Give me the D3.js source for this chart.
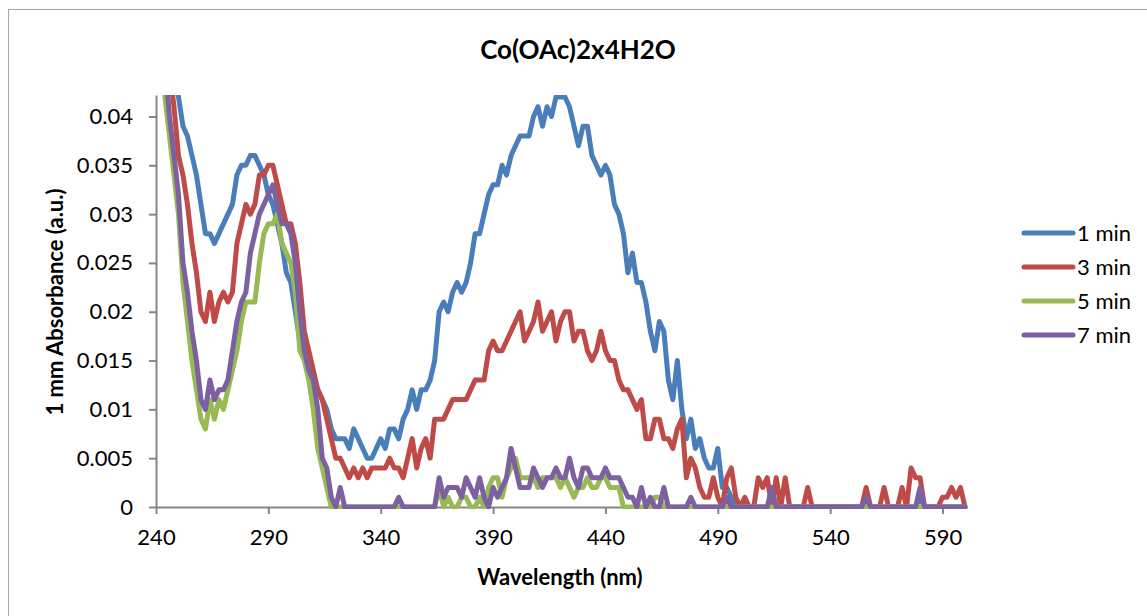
<!DOCTYPE html>
<html>
<head>
<meta charset="utf-8">
<script src="https://cdn.jsdelivr.net/npm/d3@7"></script>
<style>
  body { margin: 0; background: #fff; }
  svg { display: block; }
  text { font-family: Lato, "Open Sans", sans-serif; fill: #000; }
</style>
</head>
<body>
<svg id="chart" width="1147" height="616"></svg>
<script>
// Wavelength grid of the spectra (nm), sampled every 2 nm.
const wavelengths = d3.range(240, 601, 2);

// Absorbance of each spectrum in milli-absorbance units, one row per 20 nm.
const min1 = [
  60, 56, 52, 48, 45, 42, 39, 38, 36, 34,   // 240
  31, 28, 28, 27, 28, 29, 30, 31, 34, 35,   // 260
  35, 36, 36, 35, 34, 32, 31, 29, 27, 24,   // 280
  23, 20, 17, 15.5, 14, 13, 12, 11, 10, 8,  // 300
  7, 7, 7, 6, 8, 7, 6, 5, 5, 6,             // 320
  7, 6, 8, 8, 7, 9, 10, 12, 10, 12,         // 340
  12, 13, 15, 20, 21, 20, 22, 23, 22, 23,   // 360
  25, 28, 28, 30, 32, 33, 33, 35, 34, 36,   // 380
  37, 38, 38, 38, 40, 41, 39, 41, 40, 42,   // 400
  42, 42, 41, 39, 37, 39, 39, 36, 35, 34,   // 420
  35, 34, 31, 30, 28, 24, 26, 23, 23, 21,   // 440
  18, 16, 19, 18, 13, 11, 15, 10, 7, 9,     // 460
  6, 7, 5, 4, 4, 6, 2, 2, 1, 0,             // 480
  0, 0, 0, 0, 0, 0, 0, 0, 0, 0,             // 500
  0, 0, 0, 0, 0, 0, 0, 0, 0, 0,             // 520
  0, 0, 0, 0, 0, 0, 0, 0, 0, 0,             // 540
  0, 0, 0, 0, 0, 0, 0, 0, 0, 0,             // 560
  1, 0, 0, 0, 0, 0, 0, 0, 0, 0,             // 580
  0                                          // 600
];
const min3 = [
  60, 55, 50, 45, 41, 36, 34, 31, 27, 24,   // 240
  20, 19, 22, 19, 21, 22, 21, 22, 27, 29,   // 260
  31, 30, 31, 34, 34, 35, 35, 33, 31, 29,   // 280
  29, 27, 23, 18, 16, 14, 12, 11, 9, 7,     // 300
  5, 5, 4, 3, 4, 3, 4, 3, 4, 4,             // 320
  4, 4, 5, 4, 4, 3, 5, 7, 4, 6,             // 340
  7, 5, 9, 9, 9, 10, 11, 11, 11, 11,        // 360
  12, 13, 13, 13, 16, 17, 16, 16, 17, 18,   // 380
  19, 20, 17, 18, 19, 21, 18, 19, 20, 17,   // 400
  19, 20, 20, 17, 18, 18, 16, 15, 16, 18,   // 420
  16, 15, 15, 13, 12, 12, 11, 10, 11, 7,    // 440
  7, 9, 9, 7, 7, 6, 8, 9, 3, 5,             // 460
  4, 2, 1, 1, 3, 1, 0, 3, 4, 1,             // 480
  0, 1, 0, 0, 3, 2, 3, 0, 3, 0,             // 500
  3, 0, 0, 0, 0, 2, 0, 0, 0, 0,             // 520
  0, 0, 0, 0, 0, 0, 0, 0, 2, 0,             // 540
  0, 0, 2, 0, 0, 0, 2, 0, 4, 3,             // 560
  3, 0, 0, 0, 0, 1, 1, 2, 1, 2,             // 580
  0                                          // 600
];
const min5 = [
  55, 48, 42, 38, 34, 30, 23, 19, 15, 12,   // 240
  9, 8, 11, 9, 11, 10, 12, 14, 16, 19,      // 260
  21, 21, 21, 25, 28, 29, 29, 30, 27, 26,   // 280
  25, 22, 16, 15, 13, 10, 6, 4, 2, 0,       // 300
  0, 0, 0, 0, 0, 0, 0, 0, 0, 0,             // 320
  0, 0, 0, 0, 0, 0, 0, 0, 0, 0,             // 340
  0, 0, 0, 2, 0, 1, 0, 0, 1, 1,             // 360
  0, 0, 1, 0, 2, 3, 3, 1, 3, 4,             // 380
  5, 3, 3, 3, 3, 2, 3, 3, 3, 3,             // 400
  2, 3, 2, 1, 2, 2, 3, 2, 2, 3,             // 420
  3, 2, 2, 2, 0, 0, 0, 0, 0, 0,             // 440
  0, 1, 1, 0, 0, 0, 0, 0, 0, 0,             // 460
  0, 0, 0, 0, 0, 0, 0, 0, 0, 0,             // 480
  0, 0, 0, 0, 0, 0, 0, 0, 0, 0,             // 500
  0, 0, 0, 0, 0, 0, 0, 0, 0, 0,             // 520
  0, 0, 0, 0, 0, 0, 0, 0, 0, 0,             // 540
  0, 0, 0, 0, 0, 0, 0, 0, 0, 0,             // 560
  0, 0, 0, 0, 0, 0, 0, 0, 0, 0,             // 580
  0                                          // 600
];
const min7 = [
  58, 52, 46, 40, 36, 32, 25, 22, 18, 15,   // 240
  11, 10, 13, 11, 12, 12, 13, 16, 19, 21,   // 260
  22, 26, 28, 30, 31, 32, 33, 31, 29, 29,   // 280
  28, 25, 20, 16, 14, 13, 10, 5, 4, 1,      // 300
  0, 2, 0, 0, 0, 0, 0, 0, 0, 0,             // 320
  0, 0, 0, 0, 1, 0, 0, 0, 0, 0,             // 340
  0, 0, 0, 3, 1, 2, 2, 2, 1, 3,             // 360
  2, 1, 3, 1, 0, 2, 1, 2, 3, 6,             // 380
  4, 2, 2, 2, 4, 3, 2, 3, 3, 4,             // 400
  3, 3, 5, 3, 2, 4, 4, 3, 3, 3,             // 420
  4, 3, 3, 3, 2, 1, 1, 0, 2, 0,             // 440
  1, 0, 0, 2, 0, 0, 0, 0, 0, 1,             // 460
  0, 0, 0, 0, 0, 0, 0, 1, 0, 0,             // 480
  0, 0, 0, 0, 0, 0, 0, 2, 0, 0,             // 500
  0, 0, 0, 0, 0, 0, 0, 0, 0, 0,             // 520
  0, 0, 0, 0, 0, 0, 0, 0, 1, 0,             // 540
  0, 0, 0, 0, 0, 0, 0, 0, 0, 0,             // 560
  2, 0, 0, 0, 0, 0, 0, 0, 0, 0,             // 580
  0                                          // 600
];

const seriesNames = ["1 min", "3 min", "5 min", "7 min"];
const seriesColors = ["#4a7ebb", "#be4b48", "#98b954", "#7d60a0"];
const seriesValues = [min1, min3, min5, min7].map(a => a.map(v => v / 1000));

const xTickValues = [240, 290, 340, 390, 440, 490, 540, 590];
const yTickValues = [0, 0.005, 0.01, 0.015, 0.02, 0.025, 0.03, 0.035, 0.04];
const yTickLabels = ["0", "0.005", "0.01", "0.015", "0.02", "0.025", "0.03", "0.035", "0.04"];

const svg = d3.select("#chart");

// Outer chart frame
svg.append("rect")
  .attr("x", 8.5).attr("y", 9.5)
  .attr("width", 1300).attr("height", 800)
  .attr("fill", "#fff").attr("stroke", "#a6a6a6").attr("stroke-width", 1);

const plot = { left: 156, right: 965, top: 95, bottom: 507 };

const x = d3.scaleLinear().domain([240, 600]).range([plot.left, plot.right]);
const y = d3.scaleLinear().domain([0, 0.0422]).range([plot.bottom, plot.top]);

const axisColor = "#868686";

// Y axis
const yAxis = svg.append("g")
  .attr("transform", `translate(${plot.left},0)`)
  .call(d3.axisLeft(y)
    .tickValues(yTickValues)
    .tickFormat((d, i) => yTickLabels[i])
    .tickSize(7).tickSizeOuter(0).tickPadding(16));

// X axis
const xAxis = svg.append("g")
  .attr("transform", `translate(0,${plot.bottom})`)
  .call(d3.axisBottom(x)
    .tickValues(xTickValues)
    .tickFormat(d3.format("d"))
    .tickSize(7).tickSizeOuter(0).tickPadding(15));

[yAxis, xAxis].forEach(g => {
  g.select(".domain").attr("stroke", axisColor).attr("stroke-width", 2);
  g.selectAll(".tick line").attr("stroke", axisColor).attr("stroke-width", 2);
  g.selectAll(".tick text")
    .attr("fill", "#000")
    .style("font-family", "Lato, 'Open Sans', sans-serif")
    .style("font-size", "22px");
});

// Spectra, clipped to the plotting area
svg.append("clipPath").attr("id", "plot-clip")
  .append("rect")
  .attr("x", plot.left).attr("y", plot.top)
  .attr("width", plot.right - plot.left + 3)
  .attr("height", plot.bottom - plot.top + 2);

const line = d3.line()
  .x((d, i) => x(wavelengths[i]))
  .y(d => y(d));

svg.append("g").attr("clip-path", "url(#plot-clip)")
  .selectAll("path")
  .data(seriesValues)
  .join("path")
  .attr("d", line)
  .attr("fill", "none")
  .attr("stroke", (d, i) => seriesColors[i])
  .attr("stroke-width", 5)
  .attr("stroke-linejoin", "round")
  .attr("stroke-linecap", "round");

// Title
svg.append("text")
  .attr("x", 578).attr("y", 59)
  .attr("text-anchor", "middle")
  .style("font-size", "26px").style("font-weight", "bold")
  .text("Co(OAc)2x4H2O");

// Axis titles
svg.append("text")
  .attr("x", 560).attr("y", 585)
  .attr("text-anchor", "middle")
  .style("font-size", "22px").style("font-weight", "bold")
  .text("Wavelength (nm)");

svg.append("text")
  .attr("transform", "translate(63,302) rotate(-90)")
  .attr("text-anchor", "middle")
  .style("font-size", "22px").style("font-weight", "bold")
  .text("1 mm Absorbance (a.u.)");

// Legend
const legendRows = [233, 267, 301, 335];
const legend = svg.append("g")
  .selectAll("g")
  .data(seriesNames)
  .join("g")
  .attr("transform", (d, i) => `translate(0,${legendRows[i]})`);

legend.append("line")
  .attr("x1", 1024).attr("x2", 1073)
  .attr("y1", 0).attr("y2", 0)
  .attr("stroke", (d, i) => seriesColors[i])
  .attr("stroke-width", 5)
  .attr("stroke-linecap", "round");

legend.append("text")
  .attr("x", 1077).attr("y", 0)
  .attr("dy", "0.35em")
  .style("font-size", "22px")
  .text(d => d);
</script>
</body>
</html>
